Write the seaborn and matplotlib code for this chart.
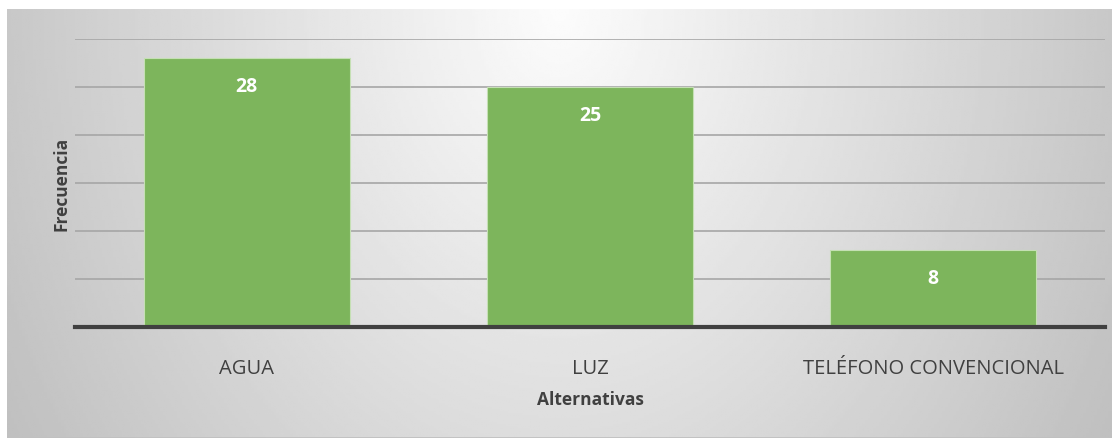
import numpy as np
import pandas as pd
import seaborn as sns
import matplotlib.pyplot as plt

sns.set_style("white")
plt.rcParams["font.family"] = ["Open Sans", "DejaVu Sans"]

# datos
categorias = ["AGUA", "LUZ", "TELÉFONO CONVENCIONAL"]
frecuencia = [28, 25, 8]

df = pd.DataFrame({"Alternativas": categorias, "Frecuencia": frecuencia})

fig = plt.figure(figsize=(11.2, 4.39), dpi=100)

# fondo con degradado radial (estilo Excel)
bg = fig.add_axes([7 / 1120, 0, 1105 / 1120, 429 / 439], zorder=-10)
xx, yy = np.meshgrid(np.linspace(0, 1, 400), np.linspace(0, 1, 200))
r = np.sqrt(((xx - 0.5) / 0.5) ** 2 + (0.6 * yy) ** 2)
g = np.clip(252 - 52 * r, 0, 255) / 255
bg.imshow(g, cmap="gray", vmin=0, vmax=1, aspect="auto", extent=[0, 1, 1, 0])
bg.axhline(1, color="#c0c0c0", lw=2)
bg.set_xlim(0, 1)
bg.set_ylim(1, 0)
bg.axis("off")

ax = fig.add_axes([75 / 1120, 111 / 439, 1030 / 1120, 288 / 439])
ax.patch.set_alpha(0)

sns.barplot(data=df, x="Alternativas", y="Frecuencia", color="#7db55c",
            width=0.6, saturation=1, edgecolor="#c5e0b4", linewidth=0.8,
            ax=ax, zorder=3)

ax.set_ylim(0, 30)
ax.set_xlim(-0.5, 2.5)
ax.set_yticks(np.arange(0, 31, 5))
ax.set_yticklabels([])
ax.yaxis.grid(True, color="#a6a6a6", lw=1.2, zorder=0)
ax.set_axisbelow(True)
for s in ["top", "right", "left"]:
    ax.spines[s].set_visible(False)
ax.spines["bottom"].set_color("#404040")
ax.spines["bottom"].set_linewidth(3)
ax.spines["bottom"].set_zorder(5)
ax.tick_params(axis="both", length=0)
ax.tick_params(axis="x", labelsize=14.5, labelcolor="#404040", pad=22)

for i, v in enumerate(frecuencia):
    ax.annotate(str(v), (i, v), xytext=(0, -20), textcoords="offset points",
                ha="center", va="center", color="white", fontsize=14,
                fontweight="bold", zorder=6)

ax.set_xlabel("Alternativas", fontsize=12.5, fontweight="bold", color="#404040",
              labelpad=9)
ax.set_ylabel("Frecuencia", fontsize=12.5, fontweight="bold", color="#404040",
              labelpad=0)

fig.savefig("out.png", dpi=100)
plt.close()
